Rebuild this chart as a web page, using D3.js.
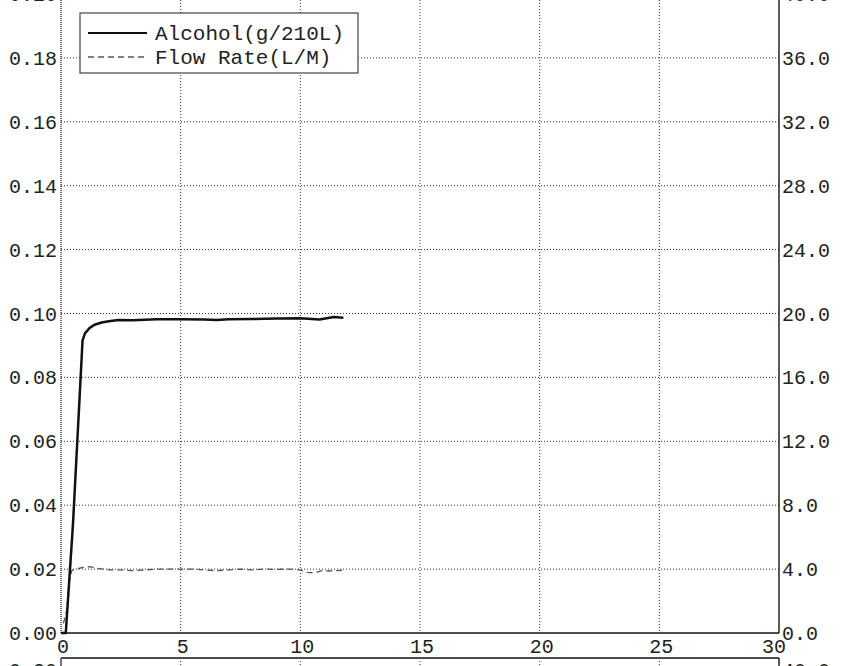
<!DOCTYPE html>
<html>
<head>
<meta charset="utf-8">
<script src="https://cdn.jsdelivr.net/npm/d3@7"></script>
<style>
  body { margin: 0; background: #fff; }
  text { font-family: "Liberation Mono", "DejaVu Sans Mono", monospace; fill: #222; }
</style>
</head>
<body>
<div id="chart"></div>
<script>
// time in minutes
var alcoholTime  = [0, 0.2, 0.5, 0.9, 1.0, 1.2, 1.4, 1.7, 2.0, 2.4, 3.0, 4.0, 5.0, 6.0, 6.5, 7.0, 8.0, 9.0, 10.0, 10.8, 11.4, 11.8];
var alcoholValue = [0, 0, 0.034, 0.0915, 0.0938, 0.0955, 0.0965, 0.0972, 0.0976, 0.098, 0.0979, 0.0982, 0.0982, 0.0981, 0.098, 0.0982, 0.0983, 0.0984, 0.0985, 0.0981, 0.0989, 0.0987];

var flowTime  = [0.1, 0.25, 0.35, 0.45, 0.6, 0.9, 1.2, 1.5, 2.0, 2.5, 3.0, 3.5, 4.0, 4.5, 5.0, 5.5, 6.0, 6.5, 7.0, 7.5, 8.0, 8.5, 9.0, 9.5, 10.0, 10.3, 10.6, 10.9, 11.2, 11.5, 11.8];
var flowValue = [0.6, 1.5, 3.3, 3.9, 4.0, 4.1, 4.15, 4.05, 3.95, 3.95, 3.9, 3.95, 4.0, 4.0, 4.0, 4.0, 3.95, 3.9, 3.95, 4.0, 3.95, 4.0, 3.98, 4.0, 3.95, 3.8, 3.75, 3.9, 3.88, 3.9, 3.92];

var xTicks      = [0, 5, 10, 15, 20, 25, 30];
var yLeftTicks  = [0, 0.02, 0.04, 0.06, 0.08, 0.10, 0.12, 0.14, 0.16, 0.18, 0.20];
var yRightTicks = [0, 4, 8, 12, 16, 20, 24, 28, 32, 36, 40];

var legendLabels = ["Alcohol(g/210L)", "Flow Rate(L/M)"];

var W = 849, H = 666;
var plotL = 61, plotR = 779, plotT = -6, plotB = 633;

var svg = d3.select("#chart").append("svg")
    .attr("width", W)
    .attr("height", H);

var x = d3.scaleLinear().domain([0, 30]).range([plotL, plotR]);
var y = d3.scaleLinear().domain([0, 0.20]).range([plotB, plotT]);
var y2 = d3.scaleLinear().domain([0, 40]).range([plotB, plotT]);

// grid
svg.append("g")
    .selectAll("line")
    .data(yLeftTicks.slice(1, -1))
    .enter().append("line")
    .attr("x1", plotL).attr("x2", plotR)
    .attr("y1", function (d) { return y(d); })
    .attr("y2", function (d) { return y(d); })
    .attr("stroke", "#333")
    .attr("stroke-width", 1)
    .attr("stroke-dasharray", "1,2");

svg.append("g")
    .selectAll("line")
    .data(xTicks.slice(1, -1))
    .enter().append("line")
    .attr("x1", function (d) { return x(d); })
    .attr("x2", function (d) { return x(d); })
    .attr("y1", plotT).attr("y2", plotB)
    .attr("stroke", "#333")
    .attr("stroke-width", 1)
    .attr("stroke-dasharray", "1,2");

// frame
svg.append("line").attr("x1", plotL).attr("x2", plotL).attr("y1", plotT).attr("y2", plotB)
    .attr("stroke", "#444").attr("stroke-width", 1.5).attr("stroke-dasharray", "1,1");
svg.append("line").attr("x1", plotR).attr("x2", plotR).attr("y1", plotT).attr("y2", plotB)
    .attr("stroke", "#222").attr("stroke-width", 1.5);
svg.append("line").attr("x1", plotL).attr("x2", plotR).attr("y1", plotB).attr("y2", plotB)
    .attr("stroke", "#111").attr("stroke-width", 1.5);

// tick labels
svg.append("g")
    .selectAll("text")
    .data(yLeftTicks)
    .enter().append("text")
    .attr("x", plotL - 4)
    .attr("y", function (d) { return y(d); })
    .attr("dy", "0.35em")
    .attr("text-anchor", "end")
    .style("font-size", "20px")
    .text(function (d) { return d3.format(".2f")(d); });

svg.append("g")
    .selectAll("text")
    .data(yRightTicks)
    .enter().append("text")
    .attr("x", plotR + 3)
    .attr("y", function (d) { return y2(d); })
    .attr("dy", "0.35em")
    .attr("text-anchor", "start")
    .style("font-size", "20px")
    .text(function (d) { return d3.format(".1f")(d); });

svg.append("g")
    .selectAll("text")
    .data(xTicks)
    .enter().append("text")
    .attr("x", function (d, i) { return x(d) + (i == xTicks.length - 1 ? -5 : 2); })
    .attr("y", plotB + 13)
    .attr("dy", "0.35em")
    .attr("text-anchor", "middle")
    .style("font-size", "20px")
    .text(function (d) { return d; });

// series
var line = d3.line()
    .x(function (d) { return x(d[0]); })
    .y(function (d) { return d[1]; });

var alcohol = alcoholTime.map(function (t, i) { return [t, y(alcoholValue[i])]; });
var flow = flowTime.map(function (t, i) { return [t, y2(flowValue[i])]; });

svg.append("path")
    .datum(flow)
    .attr("d", line)
    .attr("fill", "none")
    .attr("stroke", "#555")
    .attr("stroke-width", 1.3)
    .attr("stroke-dasharray", "6,4");

svg.append("path")
    .datum(alcohol)
    .attr("d", line)
    .attr("fill", "none")
    .attr("stroke", "#111")
    .attr("stroke-width", 2.5)
    .attr("stroke-linejoin", "round");

// legend
var legend = svg.append("g");
legend.append("rect")
    .attr("x", 80).attr("y", 13)
    .attr("width", 278).attr("height", 60)
    .attr("fill", "#fff")
    .attr("stroke", "#444")
    .attr("stroke-width", 1.2);

legend.selectAll("line")
    .data(legendLabels)
    .enter().append("line")
    .attr("x1", 88).attr("x2", 147)
    .attr("y1", function (d, i) { return 33 + i * 24; })
    .attr("y2", function (d, i) { return 33 + i * 24; })
    .attr("stroke", function (d, i) { return i == 0 ? "#111" : "#555"; })
    .attr("stroke-width", function (d, i) { return i == 0 ? 2 : 1.3; })
    .attr("stroke-dasharray", function (d, i) { return i == 0 ? null : "6,4"; });

legend.selectAll("text")
    .data(legendLabels)
    .enter().append("text")
    .attr("x", 155)
    .attr("y", function (d, i) { return 33 + i * 24; })
    .attr("dy", "0.35em")
    .style("font-size", "21px")
    .text(function (d) { return d; });

// top of the next chart on the page
var next = svg.append("g");
var nextTop = 658;
next.append("line").attr("x1", plotL).attr("x2", plotR).attr("y1", nextTop).attr("y2", nextTop)
    .attr("stroke", "#111").attr("stroke-width", 1.5);
next.append("line").attr("x1", plotL).attr("x2", plotL).attr("y1", nextTop).attr("y2", H)
    .attr("stroke", "#444").attr("stroke-width", 1.5);
next.append("line").attr("x1", plotR).attr("x2", plotR).attr("y1", nextTop).attr("y2", H)
    .attr("stroke", "#222").attr("stroke-width", 1.5);
next.selectAll(".stub")
    .data(xTicks.slice(1, -1))
    .enter().append("line")
    .attr("x1", function (d) { return x(d); })
    .attr("x2", function (d) { return x(d); })
    .attr("y1", nextTop).attr("y2", H)
    .attr("stroke", "#333")
    .attr("stroke-dasharray", "1,2");
next.append("text")
    .attr("x", plotL - 4).attr("y", nextTop + 12).attr("dy", "0.35em")
    .attr("text-anchor", "end")
    .style("font-size", "20px")
    .text(d3.format(".2f")(yLeftTicks[yLeftTicks.length - 1]));
next.append("text")
    .attr("x", plotR + 3).attr("y", nextTop + 12).attr("dy", "0.35em")
    .style("font-size", "20px")
    .text(d3.format(".1f")(yRightTicks[yRightTicks.length - 1]));
</script>
</body>
</html>
